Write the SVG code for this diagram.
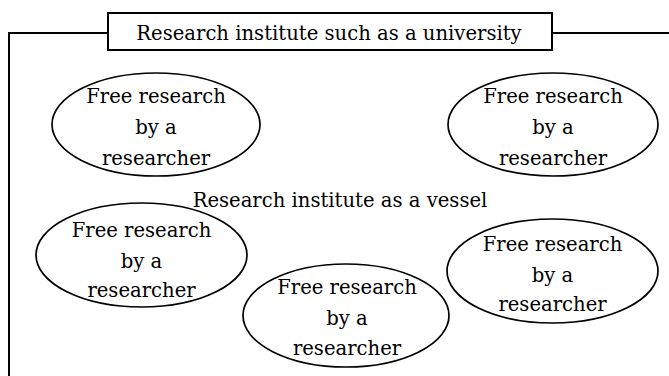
<svg xmlns="http://www.w3.org/2000/svg" width="669" height="376" viewBox="0 0 669 376">
  <style>
    text { font-family: "DejaVu Serif", "Liberation Serif", serif; font-size: 19.6px; fill: #000; text-anchor: middle; }
    .frame { fill: none; stroke: #000; stroke-width: 2; }
    .box { fill: #fff; stroke: #000; stroke-width: 2; }
    .node ellipse { fill: #fff; stroke: #000; stroke-width: 1.7; }
  </style>
  <rect width="669" height="376" fill="#fff"/>

  <!-- outer frame of the institute -->
  <g id="connectors">
    <polyline class="frame" points="9,376 9,33 108,33"/>
    <line class="frame" x1="552" y1="33" x2="669" y2="33"/>
  </g>

  <!-- title box -->
  <g id="institute">
    <rect class="box" x="108" y="13" width="444" height="37"/>
    <text x="329" y="39.5">Research institute such as a university</text>
  </g>

  <g id="vessel-label">
    <text x="340" y="207">Research institute as a vessel</text>
  </g>

  <g id="research1" class="node">
    <ellipse cx="156" cy="124.5" rx="104" ry="51.5"/>
    <text x="156" y="103">Free research</text>
    <text x="156" y="134">by a</text>
    <text x="156" y="165">researcher</text>
  </g>

  <g id="research2" class="node">
    <ellipse cx="553" cy="124.5" rx="105" ry="51.5"/>
    <text x="553" y="103">Free research</text>
    <text x="553" y="134">by a</text>
    <text x="553" y="165">researcher</text>
  </g>

  <g id="research3" class="node">
    <ellipse cx="141.5" cy="255" rx="105.5" ry="52"/>
    <text x="141.5" y="237">Free research</text>
    <text x="141.5" y="267.5">by a</text>
    <text x="141.5" y="297">researcher</text>
  </g>

  <g id="research4" class="node">
    <ellipse cx="346" cy="315.5" rx="103" ry="51.5"/>
    <text x="347" y="294">Free research</text>
    <text x="347" y="325">by a</text>
    <text x="347" y="355">researcher</text>
  </g>

  <g id="research5" class="node">
    <ellipse cx="552.5" cy="271" rx="105.5" ry="52"/>
    <text x="552.5" y="251">Free research</text>
    <text x="552.5" y="282">by a</text>
    <text x="552.5" y="311">researcher</text>
  </g>
</svg>
